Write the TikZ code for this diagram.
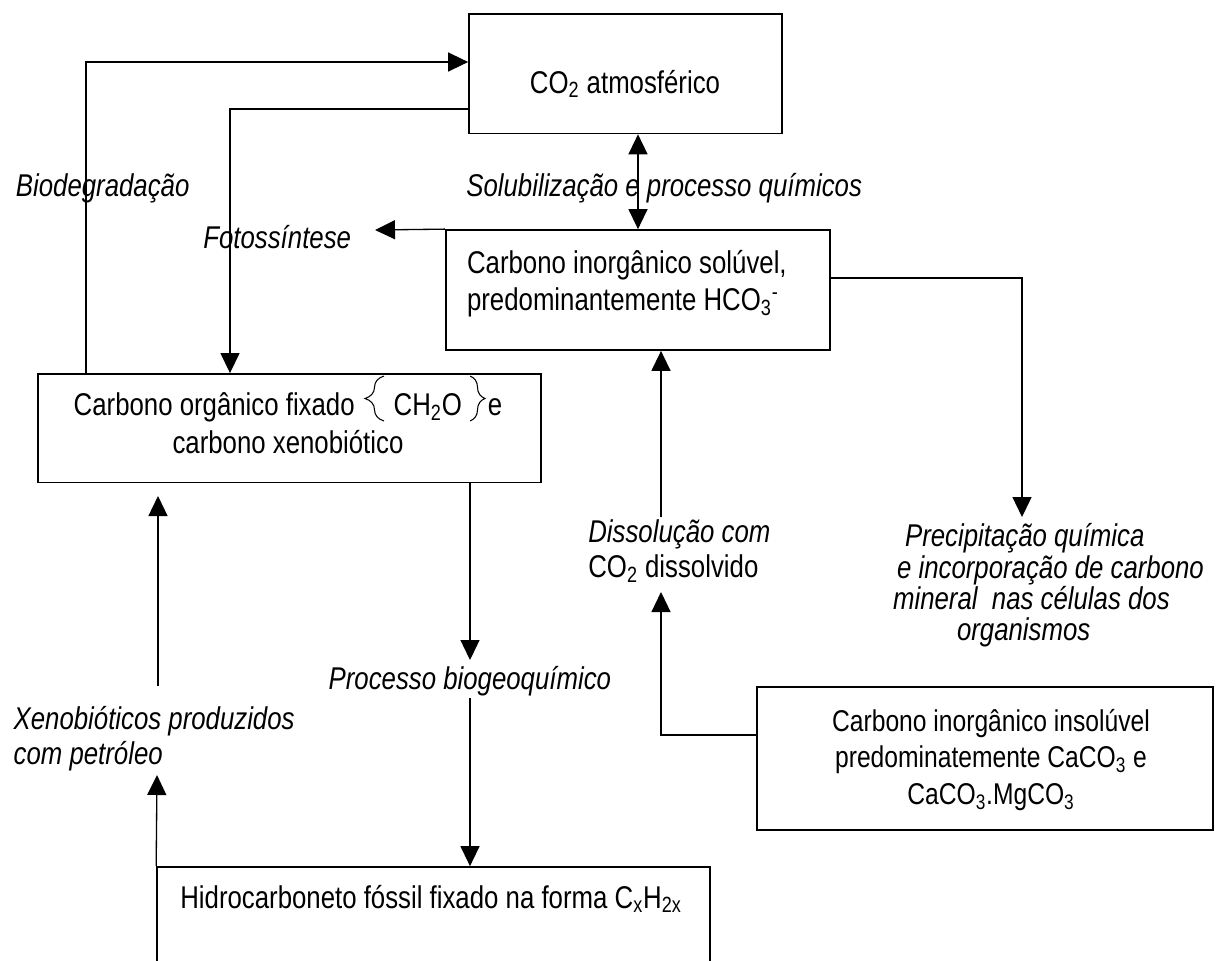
\documentclass[tikz,border=0pt]{standalone}
\usepackage{fontspec}
\setmainfont{Liberation Sans}[FakeStretch=0.82]
\usetikzlibrary{arrows.meta,decorations.pathreplacing}

\begin{document}
\begin{tikzpicture}[x=0.02cm, y=-0.02cm,
    caixa/.style={draw, line width=1pt, inner sep=0pt},
    texto/.style={inner sep=0pt, font=\fontsize{17.9}{21.2}\selectfont},
    rotulo/.style={inner sep=0pt, font=\fontsize{17.9}{19.9}\selectfont\itshape},
    seta/.style={-{Triangle[length=0.4cm,width=0.38cm]}, line width=0.75pt},
    chave/.style={decorate, decoration={brace, amplitude=#1}, line width=0.6pt}]
    \useasboundingbox (0,0) rectangle (1216,960);
    \clip (0,0) rectangle (1216,960);

    \node[caixa, minimum width=6.26cm, minimum height=2.39cm] (co2) at (625.5,73.7) {};
    \node[caixa, minimum width=7.68cm, minimum height=2.4cm] (hco) at (638,290) {};
    \node[caixa, minimum width=10.07cm, minimum height=2.17cm] (org) at (289.4,428.2) {};
    \node[caixa, minimum width=9.12cm, minimum height=2.87cm] (caco) at (985,758.4) {};
    \node[caixa, minimum width=11.06cm, minimum height=2.46cm] (foss) at (433.5,928.5) {};

    \node[texto, anchor=base] (tco2) at (625,93) {CO\textsubscript{2} atmosférico};
    \node[texto, anchor=west, align=left] (thco) at (466.7,283.6)
        {Carbono inorgânico solúvel,\\predominantemente HCO\textsubscript{3}\textsuperscript{-}};
    \node[texto, align=center] (torg) at (288,423.2)
        {Carbono orgânico fixado\hspace{0.78cm}CH\textsubscript{2}O\hspace{0.52cm}e\\carbono xenobiótico};
    \draw[chave=0.38cm] (384,421) -- (384,376);
    \draw[chave=0.3cm] (470,376) -- (470,421);
    \node[texto, align=center, font=\fontsize{17.1}{21}\selectfont] (tcaco) at (991,760)
        {Carbono inorgânico insolúvel\\predominatemente CaCO\textsubscript{3} e\\CaCO\textsubscript{3}.MgCO\textsubscript{3}};
    \node[texto, anchor=base west] (tfoss) at (180,908)
        {Hidrocarboneto fóssil fixado na forma C\textsubscript{x}H\textsubscript{2x}};

    \node[rotulo, anchor=base west] (lbio) at (15.6,196) {Biodegradação};
    \node[rotulo, anchor=base west] (lsol) at (466,196) {Solubilização e processo químicos};
    \node[rotulo, anchor=base west] (lfoto) at (203,248) {Fotossíntese};
    \node[rotulo, anchor=west, align=left] (ldis) at (588,551)
        {Dissolução com\\{\upshape CO\textsubscript{2} dissolvido}};
    \node[rotulo, anchor=west, align=left, font=\fontsize{17.9}{17.9}\selectfont\itshape] (lprec) at (892.7,585.4)
        {\hspace*{0.24cm}Precipitação química\\\hspace*{0.08cm}e incorporação de carbono\\mineral\ \ nas células dos\\\hspace*{1.28cm}organismos};
    \node[rotulo, anchor=base west] (lproc) at (328.3,689.3) {Processo biogeoquímico};
    \node[rotulo, anchor=west, align=left] (lxeno) at (13.3,739)
        {Xenobióticos produzidos\\com petróleo};

    \coordinate (bio) at (86,62);
    \coordinate (foto) at (230,109);
    \coordinate (fotoseta) at (375,230);
    \coordinate (prec) at (1022,278);
    \coordinate (precfim) at (1022,517);
    \coordinate (dis) at (661,517);
    \coordinate (dis2) at (661,735);
    \coordinate (disfim) at (661,592);
    \coordinate (proc1) at (470,660);
    \coordinate (proc2) at (470,698);
    \coordinate (xen1) at (158,686);
    \coordinate (xen1fim) at (158,496);
    \coordinate (xen2) at (157,775);

    \draw[seta] (org.north -| bio) -- (bio) -- (co2.west |- bio);
    \draw[seta] (co2.west |- foto) -- (foto) -- (foto |- org.north);
    \draw[{Triangle[length=0.4cm,width=0.38cm]}-{Triangle[length=0.4cm,width=0.38cm]}, line width=0.75pt]
        (hco.north |- co2.south) -- (hco.north);
    \draw[seta] (hco.north west) -- (fotoseta);
    \draw[seta] (hco.east |- prec) -| (precfim);
    \draw[seta] (dis) -- (dis |- hco.south);
    \draw[seta] (caco.west |- dis2) -- (dis2) -- (disfim);
    \draw[seta] (org.south -| proc1) -- (proc1);
    \draw[seta] (proc2) -- (proc2 |- foss.north);
    \draw[seta] (xen1) -- (xen1fim);
    \draw[seta] (foss.north west) -- (xen2);
\end{tikzpicture}
\end{document}
